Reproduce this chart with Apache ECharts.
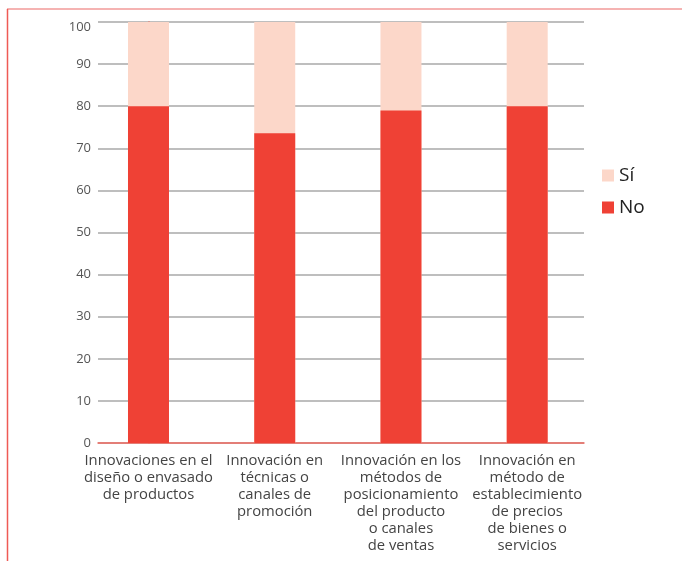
<!DOCTYPE html>
<html>
<head>
<meta charset="utf-8">
<script src="https://cdn.jsdelivr.net/npm/echarts@6/dist/echarts.min.js"></script>
<style>
  html, body { margin: 0; padding: 0; background: #fff; }
  #chart { width: 682px; height: 561px; }
</style>
</head>
<body>
<div id="chart"></div>
<script>
// Categories (Spanish labels, line breaks kept as in print)
const categories = [
  'Innovaciones en el\ndiseño o envasado\nde productos',
  'Innovación en\ntécnicas o\ncanales de\npromoción',
  'Innovación en los\nmétodos de\nposicionamiento\ndel producto\no canales\nde ventas',
  'Innovación en\nmétodo de\nestablecimiento\nde precios\nde bienes o\nservicios'
];
const positions = [0, 1, 2, 3];
// Percent of firms
const noValues = [80, 73.6, 79, 80];
const siValues = [20, 26.4, 21, 20];
const yTicks = [0, 10, 20, 30, 40, 50, 60, 70, 80, 90, 100];

// Full bar height (No + Sí); the "No" part is drawn over it
const totals = noValues.map((v, i) => v + siValues[i]);

const FONT = '"Open Sans", Lato, sans-serif';
const chart = echarts.init(document.getElementById('chart'));

chart.setOption({
  animation: false,
  textStyle: { fontFamily: FONT },
  grid: { left: 98, right: 98, top: 22, height: 421 },
  legend: {
    orient: 'vertical',
    left: 597,
    top: 161,
    itemWidth: 12,
    itemHeight: 12,
    itemGap: 13,
    icon: 'rect',
    textStyle: { fontSize: 19, color: '#222', fontFamily: FONT },
    data: ['Sí', 'No']
  },
  xAxis: {
    type: 'value',
    min: -0.4,
    max: 3.45,
    splitLine: { show: false },
    axisTick: { show: false },
    axisLine: { show: true, onZero: false, lineStyle: { color: '#f06a60', width: 1.5 } },
    axisLabel: {
      customValues: positions,
      formatter: v => categories[v],
      fontSize: 14.8,
      lineHeight: 17,
      color: '#444',
      margin: 9,
      align: 'center'
    }
  },
  yAxis: {
    type: 'value',
    min: 0,
    max: 100,
    interval: 10,
    axisLine: { show: true, lineStyle: { color: '#f06a60', width: 1.5 } },
    axisTick: { show: false },
    axisLabel: {
      fontSize: 13,
      color: '#555',
      margin: 7,
      // the top label sits a little below its gridline
      formatter: v => (v === yTicks[yTicks.length - 1] ? '{top|' + v + '}' : (yTicks.indexOf(v) >= 0 ? String(v) : '')),
      rich: {
        top: { fontSize: 13, color: '#555', padding: [10, 0, 0, 0] }
      }
    },
    splitLine: { lineStyle: { color: '#a8a8a8', width: 1.5 } }
  },
  series: [
    {
      name: 'Sí',
      type: 'bar',
      barWidth: 41,
      barGap: '-100%',
      itemStyle: { color: '#fcd7c9' },
      data: positions.map((p, i) => [p, totals[i]])
    },
    {
      name: 'No',
      type: 'bar',
      barWidth: 41,
      barGap: '-100%',
      z: 3,
      itemStyle: { color: '#ef4135' },
      data: positions.map((p, i) => [p, noValues[i]])
    }
  ],
  graphic: [
    // page frame
    { type: 'line', shape: { x1: 7, y1: 9, x2: 682, y2: 9 }, style: { stroke: '#f29a98', lineWidth: 1.5 } },
    { type: 'line', shape: { x1: 7.5, y1: 9, x2: 7.5, y2: 561 }, style: { stroke: '#ef5a55', lineWidth: 1.5 } }
  ]
});
</script>
</body>
</html>
